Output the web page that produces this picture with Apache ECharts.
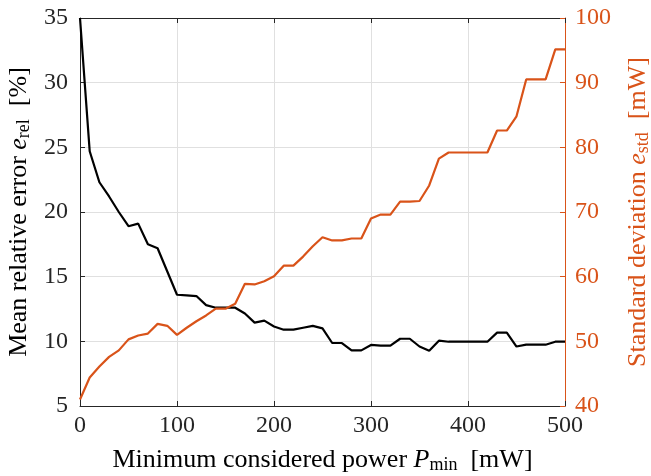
<!DOCTYPE html>
<html>
<head>
<meta charset="utf-8">
<script src="https://cdn.jsdelivr.net/npm/echarts@6/dist/echarts.min.js"></script>
<style>
html, body { margin: 0; padding: 0; background: #fff; }
#chart { width: 651px; height: 476px; }
</style>
</head>
<body>
<div id="chart"></div>
<script>
// minimum considered power [mW]
var pMin = [0, 10, 20, 30, 40, 50, 60, 70, 80, 90,
    100, 110, 120, 130, 140, 150, 160, 170, 180, 190,
    200, 210, 220, 230, 240, 250, 260, 270, 280, 290,
    300, 310, 320, 330, 340, 350, 360, 370, 380, 390,
    400, 410, 420, 430, 440, 450, 460, 470, 480, 490, 500];
// mean relative error [%]
var eRel = [35.0, 24.7, 22.3, 21.2, 20.0, 18.9, 19.1, 17.5, 17.2, 15.4,
    13.6, 13.55, 13.5, 12.8, 12.6, 12.6, 12.6, 12.15, 11.45, 11.6,
    11.15, 10.9, 10.9, 11.05, 11.2, 11.0, 9.87, 9.87, 9.3, 9.3,
    9.72, 9.67, 9.67, 10.2, 10.2, 9.6, 9.28, 10.05, 9.97, 9.97,
    9.97, 9.97, 9.97, 10.67, 10.67, 9.6, 9.74, 9.74, 9.74, 9.97, 9.97];
// standard deviation [mW]
var eStd = [41.0, 44.4, 46.1, 47.6, 48.6, 50.3, 50.9, 51.2, 52.7, 52.4,
    51.0, 52.1, 53.1, 54.0, 55.05, 55.05, 55.8, 58.9, 58.8, 59.3,
    60.05, 61.7, 61.7, 63.1, 64.7, 66.1, 65.6, 65.6, 65.9, 65.9,
    69.0, 69.6, 69.6, 71.6, 71.6, 71.7, 74.1, 78.25, 79.2, 79.2,
    79.2, 79.2, 79.2, 82.6, 82.6, 84.8, 90.5, 90.5, 90.5, 95.15, 95.15];

var leftTicks = [5, 35, 5];
var rightTicks = [40, 100, 10];
var xTicks = [0, 500, 100];

var serif = '"Liberation Serif", "DejaVu Serif", serif';
var axisGrey = '#262626';
var orange = '#D95319';

function pairs(xs, ys) {
    var out = [];
    for (var i = 0; i < xs.length; i++) out.push([xs[i], ys[i]]);
    return out;
}

function titleRich(color) {
    return {
        t: { fontFamily: serif, fontSize: 26, color: color },
        i: { fontFamily: serif, fontSize: 26, fontStyle: 'italic', color: color },
        s: { fontFamily: serif, fontSize: 18, color: color, padding: [9, 0, 0, 0] }
    };
}

var chart = echarts.init(document.getElementById('chart'));
var option = {
    animation: false,
    textStyle: { fontFamily: serif },
    grid: { left: 80, right: 86, top: 18, bottom: 70, outerBoundsMode: 'none', containLabel: false },
    xAxis: [{
        type: 'value',
        min: xTicks[0], max: xTicks[1], interval: xTicks[2],
        name: '{t|Minimum considered power }{i|P}{s|min}{t|  [mW]}',
        nameLocation: 'middle',
        nameGap: 41,
        nameTextStyle: { rich: titleRich('#000') },
        axisLine: { onZero: false, lineStyle: { color: axisGrey, width: 1 } },
        axisTick: { inside: true, length: 5, lineStyle: { color: axisGrey } },
        axisLabel: { fontFamily: serif, fontSize: 24, color: axisGrey, margin: 8 },
        splitLine: { show: true, lineStyle: { color: '#e0e0e0', width: 1 } }
    }, {
        type: 'value',
        position: 'top',
        min: xTicks[0], max: xTicks[1], interval: xTicks[2],
        axisLine: { onZero: false, lineStyle: { color: axisGrey, width: 1 } },
        axisTick: { inside: true, length: 5, lineStyle: { color: axisGrey } },
        axisLabel: { show: false },
        splitLine: { show: false }
    }],
    yAxis: [{
        type: 'value',
        position: 'left',
        min: leftTicks[0], max: leftTicks[1], interval: leftTicks[2],
        name: '{t|Mean relative error }{i|e}{s|rel}{t|  [%]}',
        nameLocation: 'middle',
        nameRotate: 90,
        nameGap: 41,
        nameTextStyle: { rich: titleRich('#000') },
        axisLine: { show: true, onZero: false, lineStyle: { color: axisGrey, width: 1 } },
        axisTick: { show: true, inside: true, length: 5, lineStyle: { color: axisGrey } },
        axisLabel: { fontFamily: serif, fontSize: 24, color: axisGrey, margin: 12 },
        splitLine: { show: true, lineStyle: { color: '#e0e0e0', width: 1 } }
    }, {
        type: 'value',
        position: 'right',
        min: rightTicks[0], max: rightTicks[1], interval: rightTicks[2],
        name: '{t|Standard deviation }{i|e}{s|std}{t|  [mW]}',
        nameLocation: 'middle',
        nameRotate: 90,
        nameGap: 60,
        nameTextStyle: { rich: titleRich(orange) },
        axisLine: { show: true, onZero: false, lineStyle: { color: orange, width: 1 } },
        axisTick: { show: true, inside: true, length: 5, lineStyle: { color: orange } },
        axisLabel: { fontFamily: serif, fontSize: 24, color: orange, margin: 10 },
        splitLine: { show: false }
    }],
    series: [{
        name: 'eRel',
        type: 'line',
        xAxisIndex: 0,
        yAxisIndex: 0,
        symbol: 'none',
        lineStyle: { color: '#000', width: 2.2 },
        data: pairs(pMin, eRel)
    }, {
        name: 'eStd',
        type: 'line',
        xAxisIndex: 0,
        yAxisIndex: 1,
        symbol: 'none',
        lineStyle: { color: orange, width: 2.2 },
        data: pairs(pMin, eStd)
    }]
};
chart.setOption(option);
</script>
</body>
</html>
